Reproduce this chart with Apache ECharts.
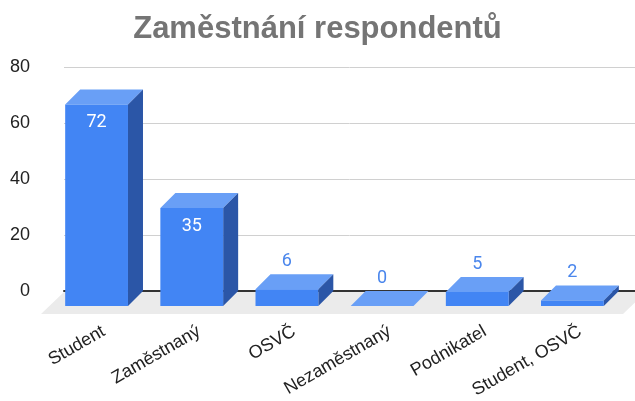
<!DOCTYPE html>
<html>
<head>
<meta charset="utf-8">
<script src="https://cdn.jsdelivr.net/npm/echarts@6/dist/echarts.min.js"></script>
<style>
  html, body { margin: 0; padding: 0; background: #fff; }
  #main { width: 635px; height: 401px; }
</style>
</head>
<body>
<div id="main"></div>
<script>
// data
var categories = ['Student', 'Zaměstnaný', 'OSVČ', 'Nezaměstnaný', 'Podnikatel', 'Student, OSVČ'];
var values = [72, 35, 6, 0, 5, 2];
var yTicks = [0, 20, 40, 60, 80];

var frontColor = '#4285f4';
var topColor = '#699ff6';
var sideColor = '#2b56a7';
var depth = 15;

var chart = echarts.init(document.getElementById('main'));

// 3D bar: front face shifted down-left, top and side faces
function renderBar(params, api) {
    var idx = api.value(0);
    var v = api.value(1);
    var top = api.coord([idx, v]);
    var base = api.coord([idx, 0]);
    var bw = api.size([1, 0])[0] * 0.66;
    var d = depth;
    var xl = top[0] - bw / 2;
    var xr = xl + bw;
    var inside = v >= 20;
    var label = {
        type: 'text',
        z2: 10,
        style: {
            text: String(v),
            x: xl - d + bw / 2,
            y: inside ? top[1] + d + 18 : top[1] - 13,
            align: 'center', verticalAlign: 'middle',
            textAlign: 'center', textVerticalAlign: 'middle',
            fill: inside ? '#ffffff' : '#4a86ec',
            fontSize: 18,
            fontFamily: 'Roboto, Arial, sans-serif'
        }
    };
    return {
        type: 'group',
        children: [
            { type: 'polygon', shape: { points: [[xl - d, top[1] + d], [xl, top[1]], [xr, top[1]], [xr - d, top[1] + d]] }, style: { fill: topColor } },
            { type: 'polygon', shape: { points: [[xr - d, top[1] + d], [xr, top[1]], [xr, base[1]], [xr - d, base[1] + d]] }, style: { fill: sideColor } },
            { type: 'rect', shape: { x: xl - d, y: top[1] + d, width: bw, height: base[1] - top[1] }, style: { fill: frontColor } },
            label
        ]
    };
}

// gray floor under the bars
function renderFloor(params, api) {
    var cs = params.coordSys;
    var y0 = cs.y + cs.height + 1;
    var x0 = cs.x;
    var x1 = cs.x + cs.width + 11;
    var f = 23;
    return {
        type: 'polygon',
        shape: { points: [[x0, y0], [x1, y0], [x1 - f, y0 + f - 1], [x0 - f, y0 + f - 1]] },
        style: { fill: '#ebebeb' }
    };
}

var option = {
    animation: false,
    title: {
        text: 'Zaměstnání respondentů',
        left: 'center',
        top: 9,
        textStyle: { fontSize: 31, fontWeight: 'bold', color: '#757575', fontFamily: 'Arial, sans-serif' }
    },
    grid: [
        { left: 64, top: 67, width: 572, height: 224 },
        // same bands as the bars, shifted a bit left for the rotated category labels
        { left: 56, top: 67, width: 572, height: 224 }
    ],
    xAxis: [
        {
            type: 'category', gridIndex: 0, data: categories,
            axisLine: { lineStyle: { color: '#333', width: 2 } },
            axisTick: { show: false },
            axisLabel: { show: false }
        },
        {
            type: 'category', gridIndex: 1, data: categories,
            axisLine: { show: false },
            axisTick: { show: false },
            axisLabel: { rotate: 30, margin: 41, fontSize: 18, color: '#222', fontFamily: 'Arial, sans-serif' }
        }
    ],
    yAxis: [
        {
            type: 'value', gridIndex: 0, min: yTicks[0], max: yTicks[yTicks.length - 1], interval: 20,
            axisLine: { show: false },
            axisTick: { show: false },
            splitLine: { lineStyle: { color: '#d0d0d0', width: 1 } },
            axisLabel: { margin: 34, fontSize: 18, color: '#222', fontFamily: 'Arial, sans-serif' }
        },
        { type: 'value', gridIndex: 1, show: false }
    ],
    series: [
        {
            type: 'custom', name: 'floor', xAxisIndex: 0, yAxisIndex: 0, z: 1,
            renderItem: renderFloor,
            data: [0]
        },
        {
            type: 'custom', name: 'Zaměstnání', xAxisIndex: 0, yAxisIndex: 0, z: 3,
            renderItem: renderBar,
            encode: { x: 0, y: 1 },
            data: values.map(function (v, i) { return [i, v]; })
        }
    ]
};
chart.setOption(option);
</script>
</body>
</html>
